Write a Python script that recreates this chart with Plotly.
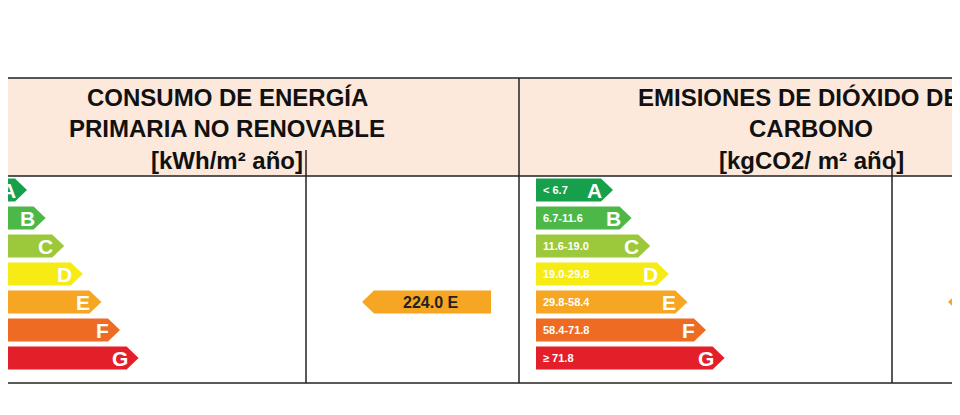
import plotly.graph_objects as go

classes = ["A", "B", "C", "D", "E", "F", "G"]
colors = ["#16a04b", "#4db848", "#9cc93b", "#f6eb14", "#f6a623", "#ee6b24", "#e3202a"]
energy_labels = ["< 34.1", "34.1-55.2", "55.2-85.9", "85.9-128.6", "128.6-243.7", "243.7-292.5", "≥ 292.5"]
co2_labels = ["< 6.7", "6.7-11.6", "11.6-19.0", "19.0-29.8", "29.8-58.4", "58.4-71.8", "≥ 71.8"]
energy_value, energy_class = 224.0, "E"
co2_value, co2_class = 45.0, "E"

fig = go.Figure()
BASE_W, STEP, H, TIP = 65, 18.6, 23, 12
ROW0, ROWSTEP = 190, 28

def arrow(x0, yc, w, color, left=False):
    if not left:
        xs = [x0, x0 + w, x0 + w + TIP, x0 + w, x0, x0]
    else:
        xs = [x0, x0 - w, x0 - w - TIP, x0 - w, x0, x0]
    ys = [yc - H/2, yc - H/2, yc, yc + H/2, yc + H/2, yc - H/2]
    fig.add_trace(go.Scatter(x=xs, y=ys, fill="toself", fillcolor=color, mode="lines",
                             line=dict(width=0, color=color), hoverinfo="skip", showlegend=False))

def scale(x_start, labels):
    for i, (c, col, lab) in enumerate(zip(classes, colors, labels)):
        yc = ROW0 + i * ROWSTEP
        w = BASE_W + i * STEP
        arrow(x_start, yc, w, col)
        fig.add_annotation(x=x_start + 5, y=yc, text="<b>" + lab + "</b>", showarrow=False, xanchor="left",
                           font=dict(family="Liberation Sans", size=11, color="white"))
        fig.add_annotation(x=x_start + w + 3, y=yc, text="<b>" + c + "</b>", showarrow=False, xanchor="right",
                           font=dict(family="Liberation Sans", size=21, color="white"))

scale(-50, energy_labels)
scale(536, co2_labels)

ie = classes.index(energy_class)
arrow(491, ROW0 + ie * ROWSTEP, 117, colors[ie], left=True)
fig.add_annotation(x=430, y=ROW0 + ie * ROWSTEP, text=f"<b>{energy_value:.1f} {energy_class}</b>", showarrow=False,
                   font=dict(family="Liberation Sans", size=16, color="#222"))
ic = classes.index(co2_class)
arrow(1077, ROW0 + ic * ROWSTEP, 117, colors[ic], left=True)

shapes = [
    dict(type="rect", x0=-5, x1=980, y0=78, y1=176, fillcolor="#fce9dc", line=dict(color="#222", width=1.5), layer="below"),
    dict(type="line", x0=-5, x1=980, y0=383, y1=383, line=dict(color="#222", width=1.5)),
    dict(type="line", x0=519, x1=519, y0=78, y1=383, line=dict(color="#222", width=1.5)),
    dict(type="line", x0=306, x1=306, y0=150, y1=383, line=dict(color="#222", width=1.5)),
    dict(type="line", x0=892, x1=892, y0=150, y1=383, line=dict(color="#222", width=1.5)),
    dict(type="line", x0=-5, x1=668, y0=2, y1=2, line=dict(color="#222", width=1.5)),
    dict(type="line", x0=668, x1=668, y0=-5, y1=2, line=dict(color="#222", width=1.5)),
]
texts = [
    (-3, 64, "ENERGÉTICA OBTENIDA:", "left", 26),
    (227, 97, "CONSUMO DE ENERGÍA", "center", 24),
    (227, 128, "PRIMARIA NO RENOVABLE", "center", 24),
    (227, 160, "[kWh/m² año]", "center", 24),
    (636, 97, "EMISIONES DE DIÓXIDO DE", "left", 24),
    (811, 128, "CARBONO", "center", 24),
    (811, 160, "[kgCO2/ m² año]", "center", 24),
]
for x, y, t, anc, s in texts:
    fig.add_annotation(x=x, y=y, text="<b>" + t + "</b>", showarrow=False, xanchor=anc,
                       font=dict(family="Liberation Sans", size=s, color="#111"))

fig.update_layout(width=960, height=415, margin=dict(l=0, r=0, t=0, b=0),
                  paper_bgcolor="white", plot_bgcolor="white", shapes=shapes,
                  xaxis=dict(range=[8, 968], visible=False, fixedrange=True),
                  yaxis=dict(range=[423, 8], visible=False, fixedrange=True))
fig.write_html("out.html")
